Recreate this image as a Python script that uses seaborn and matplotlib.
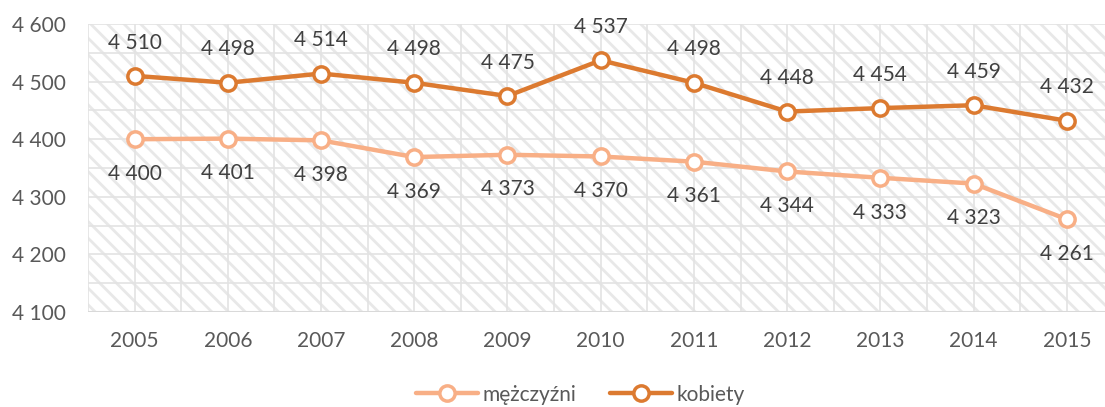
import matplotlib
matplotlib.use("Agg")
import matplotlib.pyplot as plt
import seaborn as sns
import pandas as pd
import numpy as np

years = ["2005", "2006", "2007", "2008", "2009", "2010", "2011", "2012", "2013", "2014", "2015"]
men = [4400, 4401, 4398, 4369, 4373, 4370, 4361, 4344, 4333, 4323, 4261]
women = [4510, 4498, 4514, 4498, 4475, 4537, 4498, 4448, 4454, 4459, 4432]
series_names = ["mężczyźni", "kobiety"]
colors = ["#F8AF86", "#DC7A30"]
yticks = [4100, 4200, 4300, 4400, 4500, 4600]

sns.set_theme(style="white")
plt.rcParams['font.family'] = ['Lato', 'DejaVu Sans']
plt.rcParams['hatch.linewidth'] = 2.0
plt.rcParams['hatch.color'] = "#E8E8E8"

df = pd.DataFrame({
    "rok": list(range(len(years))) * 2,
    "wartosc": men + women,
    "seria": [series_names[0]] * len(years) + [series_names[1]] * len(years),
})

FS = 15
fig = plt.figure(figsize=(11.05, 4.07), dpi=100)
ax = fig.add_axes([0.0796, 0.2334, 0.928, 0.7076])

ax.set_xlim(-0.5, len(years) - 0.5)
ax.set_ylim(4100, 4600)

# hatched background
ax.fill_between([-0.5, len(years) - 0.5], 4100, 4600, facecolor="white",
                edgecolor="#E8E8E8", hatch="\\\\", linewidth=0, zorder=0)

# grid
for y in np.arange(4100, 4601, 50):
    ax.axhline(y, color="#E3E3E3", lw=1.2, zorder=1)
for x in np.arange(-0.5, len(years), 0.5):
    ax.axvline(x, color="#E3E3E3", lw=1.2, zorder=1)

sns.lineplot(data=df, x="rok", y="wartosc", hue="seria", palette=colors,
             hue_order=series_names, marker="o", markersize=11,
             markerfacecolor="white", markeredgewidth=2.5, linewidth=3.2,
             ax=ax, zorder=3)
for line in ax.lines:
    line.set_markeredgecolor(line.get_color())

for i, (m, w) in enumerate(zip(men, women)):
    ax.annotate(f"{w:,}".replace(",", " "), (i, w), xytext=(0, 24), textcoords="offset points",
                ha="center", va="center", fontsize=FS, color="#404040")
    ax.annotate(f"{m:,}".replace(",", " "), (i, m), xytext=(0, -25), textcoords="offset points",
                ha="center", va="center", fontsize=FS, color="#404040")

ax.set_xticks(range(len(years)))
ax.set_xticklabels(years)
ax.set_yticks(yticks)
ax.set_yticklabels([f"{v:,}".replace(",", " ") for v in yticks])
ax.tick_params(axis="both", labelsize=FS, colors="#595959", length=0)
ax.tick_params(axis="x", pad=14)
ax.tick_params(axis="y", pad=16)
ax.set_xlabel("")
ax.set_ylabel("")
for s in ax.spines.values():
    s.set_visible(False)
ax.axhline(4100, color="#D9D9D9", lw=1.5, zorder=2)

handles, labels = ax.get_legend_handles_labels()
for h in handles:
    h.set_markerfacecolor("white")
    h.set_markeredgecolor(h.get_color())
ax.legend(handles, labels, loc="center", bbox_to_anchor=(0.525, 0.03), bbox_transform=fig.transFigure,
          ncol=2, frameon=False, fontsize=FS, labelcolor="#595959", handlelength=3.0,
          handletextpad=0.2, columnspacing=1.6)

fig.savefig("out.png", dpi=100)
